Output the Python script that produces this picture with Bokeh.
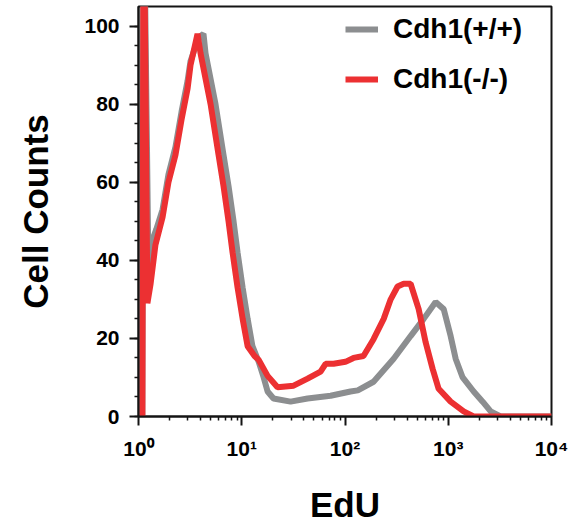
from bokeh.plotting import figure
from bokeh.models import Range1d, Legend, LegendItem, FixedTicker
from bokeh.embed import file_html
from bokeh.resources import INLINE

# Cdh1(+/+) (gray) histogram
wt_x = [1.09, 1.12, 1.25, 1.31, 1.49, 1.71, 1.95, 2.28, 2.61, 2.99, 3.19, 3.81, 4.26,
        4.46, 5.57, 6.66, 7.45, 8.33, 9.11, 10.2, 11.4, 12.7, 14.6, 16.3, 17.8, 20.3,
        29.7, 43.4, 72.5, 113, 133, 189, 296, 432, 578, 755, 903, 1055, 1179, 1379,
        1762, 2154, 2576, 3219, 10000]
wt_y = [0, 140, 37, 44, 48, 53, 62, 69, 78, 86, 91, 97, 98,
        93, 80, 67, 59, 50, 42, 33, 25, 18, 14, 10, 6.4, 4.6,
        3.8, 4.6, 5.3, 6.4, 6.7, 8.9, 14.8, 20.6, 25, 29.3, 27.5, 20.6, 14.8, 10,
        6.4, 3.8, 1.3, 0, 0]

# Cdh1(-/-) (red) histogram
ko_x = [1.09, 1.12, 1.22, 1.31, 1.46, 1.71, 1.95, 2.28, 2.61, 2.99, 3.19, 3.73, 3.99,
        4.99, 5.96, 6.66, 7.45, 8.15, 9.11, 10.2, 11.4, 13.3, 14.6, 17.8, 22.2, 31.8,
        43.4, 58.0, 64.9, 77.5, 101, 121, 151, 189, 237, 277, 323, 370, 432, 517,
        604, 706, 807, 1055, 1410, 1762, 10000]
ko_y = [0, 140, 29, 34, 44, 51, 60, 67, 76, 84, 90, 98, 93,
        80, 67, 59, 50, 42, 33, 25, 18, 15.5, 14.5, 10.4, 7.5, 7.9,
        9.7, 11.5, 13.5, 13.5, 14, 15, 15.5, 19.8, 25, 30, 33.3, 34, 34, 27.5,
        19, 12.2, 7.1, 3.8, 1.3, 0, 0]

x_ticks = [1, 10, 100, 1000, 10000]
x_tick_labels = ["10\u2070", "10\u00b9", "10\u00b2", "10\u00b3", "10\u2074"]
x_minor = [m * 10 ** e for e in range(4) for m in range(2, 10)]
y_ticks = [0, 20, 40, 60, 80, 100]
y_minor = [v for v in range(0, 105, 5)]

FONT = "Liberation Sans"
INK = "#141414"

p = figure(width=588, height=526, x_axis_type="log",
           x_range=Range1d(1, 10000), y_range=Range1d(0, 105),
           output_backend="svg", toolbar_location=None,
           min_border_left=138, min_border_right=37,
           min_border_top=6, min_border_bottom=108)

p.grid.visible = False
p.outline_line_color = INK
p.outline_line_width = 2
p.background_fill_color = "white"
p.border_fill_color = "white"

g = p.line(wt_x, wt_y, line_color="#8c8e90", line_width=6)
r = p.line(ko_x, ko_y, line_color="#ec3032", line_width=6)

p.xaxis.ticker = FixedTicker(ticks=x_ticks, minor_ticks=x_minor)
p.xaxis.major_label_overrides = {t: l for t, l in zip(x_ticks, x_tick_labels)}
p.yaxis.ticker = FixedTicker(ticks=y_ticks, minor_ticks=y_minor)

p.axis.axis_line_color = INK
p.axis.axis_line_width = 2
p.axis.major_tick_line_color = INK
p.axis.major_tick_line_width = 2
p.axis.minor_tick_line_color = INK
p.axis.minor_tick_line_width = 1.5
p.axis.major_tick_out = 9
p.axis.major_tick_in = 0
p.axis.minor_tick_out = 4
p.axis.minor_tick_in = 0
p.axis.major_label_text_font = FONT
p.axis.major_label_text_font_style = "bold"
p.axis.major_label_text_font_size = "21px"
p.axis.major_label_text_color = "black"
p.axis.axis_label_text_font = FONT
p.axis.axis_label_text_font_style = "bold"
p.axis.axis_label_text_font_size = "35px"
p.axis.axis_label_text_color = "black"

p.xaxis.axis_label = "EdU"
p.yaxis.axis_label = "Cell Counts"
p.xaxis.major_label_standoff = 11
p.yaxis.major_label_standoff = 10
p.xaxis.axis_label_standoff = 22
p.yaxis.axis_label_standoff = 26

legend = Legend(items=[LegendItem(label="Cdh1(+/+)", renderers=[g]),
                       LegendItem(label="Cdh1(-/-)", renderers=[r])],
                location=(207, 321), orientation="vertical",
                label_text_font=FONT, label_text_font_style="bold",
                label_text_font_size="28px", label_text_color="black",
                glyph_width=33, glyph_height=30, label_height=30,
                spacing=18, padding=0, margin=0, label_standoff=15,
                border_line_color=None, background_fill_alpha=0)
p.add_layout(legend)

open("out.html", "w").write(file_html(p, INLINE))
